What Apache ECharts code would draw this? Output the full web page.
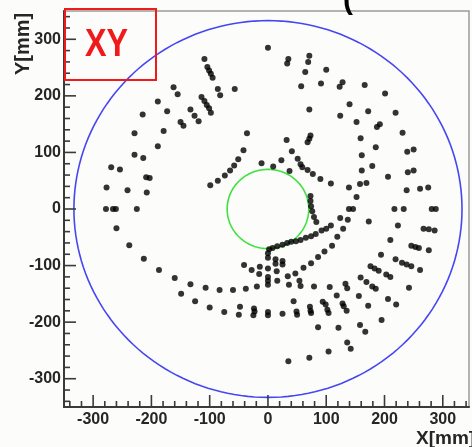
<!DOCTYPE html>
<html>
<head>
<meta charset="utf-8">
<script src="https://cdn.jsdelivr.net/npm/echarts@6/dist/echarts.min.js"></script>
<style>
html,body{margin:0;padding:0;background:#fcfcfa;}
#chart{width:472px;height:447px;}
</style>
</head>
<body>
<div id="chart"></div>
<script>
// ---- data (mm) ----
const hitsUpperLeft = [
  [-162,215],[-155,203],[-189,190],[-173,173],[-215,167],[-179,138],[-229,134],[-189,111],[-229,96],[-214,90],
  [-269,74],[-254,70],[-209,56],[-203,55],[-277,38],[-241,33],[-208,29],[-278,0],[-266,0],[-261,0],[-225,0],
  [-109,265],[-104,251],[-101,245],[-98,239],[-95,232],[-86,212],[-82,201],[-57,212],[-114,198],[-109,191],
  [-105,184],[-101,178],[-98,170],[-133,176],[-126,165],[-119,155],[-150,154],[-145,147],[-36,134],[-42,104],
  [-51,88],[-58,77],[-65,68],[-74,59],[-86,50],[-99,42],[-11,81]
];
const hitsUpperRight = [
  [0,285],[35,265],[33,257],[71,271],[69,260],[64,242],[100,246],[57,217],[91,222],[128,224],[123,216],
  [140,185],[124,165],[152,154],[71,176],[73,130],[71,124],[68,118],[32,122],[41,102],[23,86],[51,89],
  [56,79],[59,74],[9,75],[37,67],[68,69],[77,62],[90,53],[108,45],[139,38],[152,21],[73,23],[73,14],[74,5],
  [166,219],[201,204],[172,173],[219,170],[192,150],[187,145],[231,135],[159,125],[185,109],[161,95],
  [239,101],[250,105],[179,76],[161,68],[206,57],[240,65],[250,68],[158,44],[169,46],[238,33],[261,36],
  [275,38],[139,0],[146,0],[217,0],[233,0],[281,0],[288,0]
];
const hitsLowerRight = [
  [76,-4],[79,-14],[83,-23],[124,-16],[137,-19],[173,-22],[223,-29],[267,-35],[276,-36],[286,-38],[129,-35],
  [108,-29],[100,-35],[92,-38],[82,-44],[74,-48],[65,-51],[56,-55],[48,-57],[40,-58],[33,-60],[25,-63],
  [16,-66],[8,-69],[2,-71],
  [210,-55],[246,-65],[253,-67],[259,-69],[276,-73],[194,-81],[219,-89],[230,-95],[238,-98],[246,-101],
  [261,-108],[176,-101],[183,-105],[190,-109],[159,-121],[169,-129],[203,-116],[210,-120],[242,-139],
  [179,-137],[185,-141],[156,-154],[206,-159],[172,-171],[220,-169],[195,-196],[158,-205],[167,-217],
  [119,-49],[110,-65],[97,-75],[86,-85],[74,-96],[61,-104],[47,-114],[34,-119],
  [0,-78],[0,-86],[13,-89],[13,-97],[25,-92],[25,-98],[0,-105],[15,-110],[0,-120],[0,-127],[0,-134],
  [16,-127],[36,-134],[54,-127],[56,-136],[79,-137],[106,-138],[133,-132],[136,-140],[118,-153],[44,-163],
  [94,-164],[99,-169],[102,-178],[104,-184],[128,-167],[130,-172],[135,-180],[72,-173],[73,-180],[74,-184],
  [49,-181],[50,-187],[25,-185],[0,-182],[0,-188],[86,-209],[121,-210],[136,-236],[142,-247],[104,-252],
  [71,-263],[35,-269]
];
const hitsLowerLeft = [
  [-41,-99],[-28,-108],[-14,-102],[-15,-115],[-133,-133],[-149,-150],[-107,-139],[-83,-143],[-60,-143],
  [-38,-141],[-19,-137],[-125,-163],[-100,-174],[-75,-182],[-48,-173],[-50,-187],[-24,-176],[-23,-181],
  [-25,-188],[-260,-34],[-238,-64],[-213,-88],[-187,-108],[-160,-122]
];
// circles: [cx, cy, r] in mm
const outerCircle = [0, 0, 333];
const innerCircle = [0, 0, 70];
// tick values
const majorTicks = [-300,-200,-100,0,100,200,300];
const minorTicks = [];
for (let v = -340; v <= 340; v += 20) { if (v % 100 !== 0) minorTicks.push(v); }

const xMin = -350, xMax = 345, yMin = -350, yMax = 350;

const chart = echarts.init(document.getElementById('chart'), null, {renderer:'canvas'});

function circleItem(color){
  return function(params, api){
    const cx = api.value(0), cy = api.value(1), r = api.value(2);
    const pts = [];
    for (let i = 0; i <= 180; i++) {
      const t = i / 180 * Math.PI * 2;
      pts.push(api.coord([cx + r*Math.cos(t), cy + r*Math.sin(t)]));
    }
    return {type:'polyline', shape:{points:pts}, style:{stroke:color, fill:null, lineWidth:1.6}, silent:true};
  };
}
function xTickItem(len){
  return function(params, api){
    const p = api.coord([api.value(0), yMin]);
    return {type:'line', shape:{x1:p[0], y1:p[1], x2:p[0], y2:p[1]-len}, style:{stroke:'#3a3a3a', lineWidth:1.6}};
  };
}
function yTickItem(len){
  return function(params, api){
    const p = api.coord([xMin, api.value(1)]);
    return {type:'line', shape:{x1:p[0], y1:p[1], x2:p[0]+len, y2:p[1]}, style:{stroke:'#3a3a3a', lineWidth:1.6}};
  };
}
const labelFmt = v => (v % 100 === 0 && Math.abs(v) <= 300) ? String(v) : '';
const scatterStyle = {symbol:'circle', symbolSize:6, itemStyle:{color:'#000'}, silent:true};

chart.setOption({
  animation:false,
  backgroundColor:'#fcfcfa',
  grid:{left:64, top:11, width:405, height:396, show:true, borderColor:'#9a9a9a', borderWidth:1.5, backgroundColor:'#fcfcfa'},
  xAxis:{type:'value', min:xMin, max:xMax, interval:50,
    axisLine:{show:true, onZero:false, lineStyle:{color:'#3a3a3a', width:2}},
    axisTick:{show:false}, splitLine:{show:false},
    axisLabel:{formatter:labelFmt, margin:5, color:'#262626', fontWeight:'bold', fontSize:16, fontFamily:'Liberation Sans'}},
  yAxis:{type:'value', min:yMin, max:yMax, interval:50,
    axisLine:{show:true, onZero:false, lineStyle:{color:'#3a3a3a', width:2}},
    axisTick:{show:false}, splitLine:{show:false},
    axisLabel:{formatter:labelFmt, margin:3, color:'#262626', fontWeight:'bold', fontSize:16, fontFamily:'Liberation Sans'}},
  series:[
    {type:'custom', renderItem:circleItem('#4646f2'), data:[outerCircle], silent:true, z:1},
    {type:'custom', renderItem:circleItem('#3fe03f'), data:[innerCircle], silent:true, z:1},
    {type:'custom', renderItem:xTickItem(12), data:majorTicks.map(v=>[v,yMin]), silent:true, z:3},
    {type:'custom', renderItem:xTickItem(6), data:minorTicks.map(v=>[v,yMin]), silent:true, z:3},
    {type:'custom', renderItem:yTickItem(12), data:majorTicks.map(v=>[xMin,v]), silent:true, z:3},
    {type:'custom', renderItem:yTickItem(6), data:minorTicks.map(v=>[xMin,v]), silent:true, z:3},
    Object.assign({type:'scatter', data:hitsUpperLeft, z:2}, scatterStyle),
    Object.assign({type:'scatter', data:hitsUpperRight, z:2}, scatterStyle),
    Object.assign({type:'scatter', data:hitsLowerRight, z:2}, scatterStyle),
    Object.assign({type:'scatter', data:hitsLowerLeft, z:2}, scatterStyle)
  ],
  graphic:[
    {type:'rect', shape:{x:65, y:9, width:91, height:71}, style:{fill:null, stroke:'#f01a1a', lineWidth:2}, z:10},
    {type:'text', x:85, y:46, scaleX:0.85, style:{text:'XY', fill:'#f01a1a', font:'bold 38px "Liberation Sans"', align:'left', verticalAlign:'middle'}, z:10},
    {type:'text', x:23, y:44, rotation:Math.PI/2, style:{text:'Y[mm]', fill:'#262626', font:'bold 20px "Liberation Sans"', align:'center', verticalAlign:'middle'}, z:10},
    {type:'text', x:416, y:439, style:{text:'X[mm]', fill:'#262626', font:'bold 19px "Liberation Sans"', align:'left', verticalAlign:'middle'}, z:10},
    {type:'text', x:343, y:16, style:{text:'(', fill:'#000', font:'bold 30px "Liberation Sans"', align:'left', verticalAlign:'bottom'}, z:10}
  ]
});
</script>
</body>
</html>
